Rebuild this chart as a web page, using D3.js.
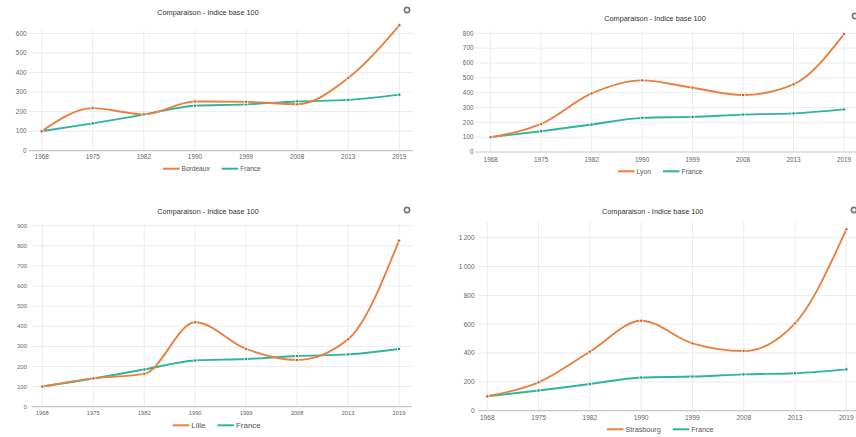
<!DOCTYPE html>
<html>
<head>
<meta charset="utf-8">
<script src="https://cdn.jsdelivr.net/npm/d3@7"></script>
<style>
  html, body { margin: 0; padding: 0; background: #fff; }
  svg { display: block; font-family: "Liberation Sans", Arial, sans-serif; }
</style>
</head>
<body>
<svg id="chart" width="856" height="437"></svg>
<script>
// Population index, base 100 in 1968
const years = ["1968", "1975", "1982", "1990", "1999", "2008", "2013", "2019"];
const france = [100, 140, 185, 230, 237, 252, 260, 287];
const bordeaux = [100, 218, 186, 252, 250, 238, 372, 642];
const lyon = [100, 189, 395, 483, 433, 384, 456, 795];
const lille = [100, 141, 163, 420, 287, 232, 335, 826];
const strasbourg = [100, 197, 409, 624, 467, 414, 606, 1258];

const titleText = "Comparaison - Indice base 100";
const franceLabel = "France";

const ticksA = d3.range(0, 601, 100);
const ticksB = d3.range(0, 801, 100);
const ticksC = d3.range(0, 901, 100);
const ticksD = d3.range(0, 1201, 200);

const ORANGE = "#e9803f";
const TEAL = "#2fb59c";

// Panel geometry
const panels = [
  { city: "Bordeaux", values: bordeaux, ticks: ticksA,
    ptL: 41.7, ptR: 399.3, axL: 29, axR: 413, y0: 150.7, yTop: 33.5, gridTop: 30,
    titleX: 208, titleY: 12, gear: [407, 10], xLabY: 156.7, yLabR: 26.5,
    legY: 168.7, legX: 163, legGap: 41, tick: 6.4, leg: 6.6 },
  { city: "Lyon", values: lyon, ticks: ticksB,
    ptL: 490.7, ptR: 844, axL: 475, axR: 860, y0: 152, yTop: 33.3, gridTop: 31,
    titleX: 655, titleY: 18.3, gear: [855, 16], xLabY: 159.3, yLabR: 473.5,
    legY: 171.3, legX: 618, legGap: 46, tick: 6.4, leg: 6.8 },
  { city: "Lille", values: lille, ticks: ticksC,
    ptL: 42.3, ptR: 399, axL: 31.7, axR: 411.7, y0: 406.7, yTop: 225.7, gridTop: 224,
    titleX: 208, titleY: 211, gear: [407, 210], xLabY: 413.3, yLabR: 27,
    legY: 425.3, legX: 172.7, legGap: 36, tick: 5.8, leg: 8 },
  { city: "Strasbourg", values: strasbourg, ticks: ticksD,
    ptL: 487.3, ptR: 846.3, axL: 478, axR: 860, y0: 410.7, yTop: 237.7, gridTop: 222,
    titleX: 652.7, titleY: 211.7, gear: [854, 210], xLabY: 417.3, yLabR: 474.7,
    legY: 429.3, legX: 607, legGap: 60, tick: 6.6, leg: 7.2 }
];

const svg = d3.select("#chart");
const fmt = v => d3.format(",")(v).replace(/,/g, "\u202f");

panels.forEach(p => {
  const g = svg.append("g");
  const topTick = p.ticks[p.ticks.length - 1];
  const x = d3.scalePoint().domain(years).range([p.ptL, p.ptR]);
  const y = d3.scaleLinear().domain([0, topTick]).range([p.y0, p.yTop]);

  // horizontal grid
  g.append("g").selectAll("line").data(p.ticks.slice(1)).join("line")
    .attr("x1", p.axL).attr("x2", p.axR)
    .attr("y1", d => y(d)).attr("y2", d => y(d))
    .attr("stroke", "#ececec").attr("stroke-width", 1);

  // vertical grid at each category
  g.append("g").selectAll("line").data(years).join("line")
    .attr("x1", d => x(d)).attr("x2", d => x(d))
    .attr("y1", p.gridTop).attr("y2", p.y0)
    .attr("stroke", "#ececec").attr("stroke-width", 1);

  // baseline
  g.append("line")
    .attr("x1", p.axL).attr("x2", p.axR)
    .attr("y1", y(0)).attr("y2", y(0))
    .attr("stroke", "#c8c8c8").attr("stroke-width", 1.2);

  // y tick labels
  g.append("g").selectAll("text").data(p.ticks).join("text")
    .attr("x", p.yLabR).attr("y", d => y(d))
    .attr("dy", "0.35em").attr("text-anchor", "end")
    .attr("font-size", p.tick).attr("fill", "#666")
    .text(fmt);

  // x tick labels
  g.append("g").selectAll("text").data(years).join("text")
    .attr("x", d => x(d)).attr("y", p.xLabY)
    .attr("dy", "0.35em").attr("text-anchor", "middle")
    .attr("font-size", p.tick).attr("fill", "#666")
    .text(d => d);

  // title
  g.append("text")
    .attr("x", p.titleX).attr("y", p.titleY).attr("dy", "0.35em")
    .attr("text-anchor", "middle").attr("font-size", 7.3).attr("fill", "#333")
    .text(titleText);

  // settings icon
  g.append("circle")
    .attr("cx", p.gear[0]).attr("cy", p.gear[1]).attr("r", 2.6)
    .attr("fill", "none").attr("stroke", "#777").attr("stroke-width", 1.6);

  const line = d3.line()
    .x((d, i) => x(years[i]))
    .y(d => y(d))
    .curve(d3.curveMonotoneX);

  const series = [
    { name: p.city, values: p.values, color: ORANGE },
    { name: franceLabel, values: france, color: TEAL }
  ];

  // draw France first so the city line sits on top
  series.slice().reverse().forEach(s => {
    g.append("path").datum(s.values)
      .attr("d", line)
      .attr("fill", "none").attr("stroke", s.color)
      .attr("stroke-width", 1.9).attr("stroke-linejoin", "round");
    g.append("g").selectAll("circle").data(s.values).join("circle")
      .attr("cx", (d, i) => x(years[i])).attr("cy", d => y(d))
      .attr("r", 1.7).attr("fill", d3.color(s.color).darker(0.6))
      .attr("stroke", "#fff").attr("stroke-width", 0.8);
  });

  // legend
  let lx = p.legX;
  series.forEach((s, i) => {
    const lg = g.append("g");
    lg.append("line")
      .attr("x1", lx).attr("x2", lx + 16.5)
      .attr("y1", p.legY).attr("y2", p.legY)
      .attr("stroke", s.color).attr("stroke-width", 2);
    const t = lg.append("text")
      .attr("x", lx + 18.5).attr("y", p.legY).attr("dy", "0.35em")
      .attr("font-size", p.leg).attr("fill", "#555")
      .text(s.name);
    lx += 18.5 + t.node().getComputedTextLength() + 12;
  });
});
</script>
</body>
</html>
